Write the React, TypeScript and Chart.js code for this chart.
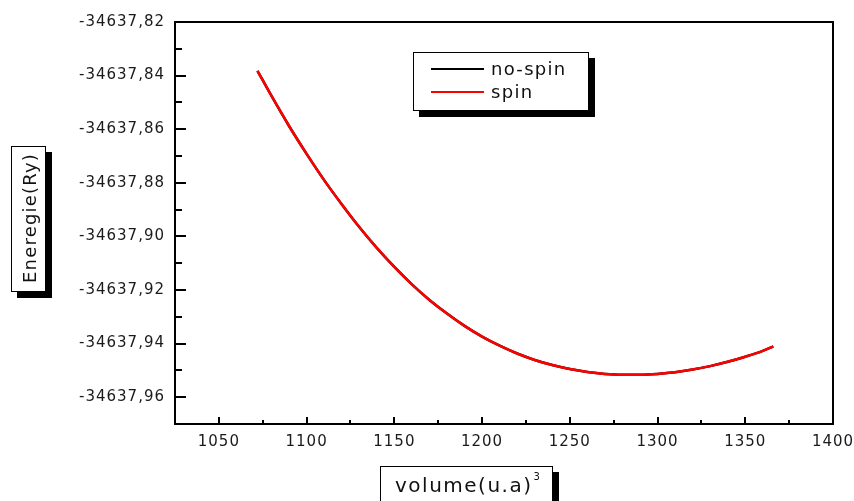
import { useEffect, useRef } from 'react';
import { Chart, registerables } from 'chart.js';

Chart.register(...registerables);

const FONT = '"DejaVu Sans", Verdana, sans-serif';

// Volume (u.a)^3
const volumes = [
  1072, 1080, 1090, 1100, 1110, 1120, 1130, 1140, 1150, 1160, 1170, 1180, 1190, 1200, 1210, 1220,
  1230, 1240, 1250, 1260, 1270, 1280, 1290, 1300, 1310, 1320, 1330, 1340, 1350, 1360, 1366,
];
// Energie (Ry), spin
const spinEnergy = [
  -34637.8382, -34637.8476, -34637.8588, -34637.8692, -34637.879, -34637.888, -34637.8965,
  -34637.9043, -34637.9114, -34637.9179, -34637.9237, -34637.9288, -34637.9334, -34637.9374,
  -34637.9408, -34637.9437, -34637.9461, -34637.948, -34637.9495, -34637.9506, -34637.9513,
  -34637.9516, -34637.9516, -34637.9513, -34637.9507, -34637.9497, -34637.9484, -34637.9468,
  -34637.9449, -34637.9427, -34637.941,
];
// Energie (Ry), no-spin (coincides with spin)
const noSpinEnergy = [
  -34637.8382, -34637.8476, -34637.8588, -34637.8692, -34637.879, -34637.888, -34637.8965,
  -34637.9043, -34637.9114, -34637.9179, -34637.9237, -34637.9288, -34637.9334, -34637.9374,
  -34637.9408, -34637.9437, -34637.9461, -34637.948, -34637.9495, -34637.9506, -34637.9513,
  -34637.9516, -34637.9516, -34637.9513, -34637.9507, -34637.9497, -34637.9484, -34637.9468,
  -34637.9449, -34637.9427, -34637.941,
];

const xMajorTicks = [1050, 1100, 1150, 1200, 1250, 1300, 1350, 1400];
const xMinorTicks = [1075, 1125, 1175, 1225, 1275, 1325, 1375];
const yMajorTicks = [-34637.82, -34637.84, -34637.86, -34637.88, -34637.9, -34637.92, -34637.94, -34637.96];
const yMinorTicks = [-34637.83, -34637.85, -34637.87, -34637.89, -34637.91, -34637.93, -34637.95];

const X_MIN = 1025;
const X_MAX = 1400;
const Y_MIN = -34637.97;
const Y_MAX = -34637.82;

const seriesLabels = ['no-spin', 'spin'];
const yTitle = 'Eneregie(Ry)';
const xTitle = 'volume(u.a)';
const xTitleSup = '3';

function shadowBox(ctx: CanvasRenderingContext2D, x: number, y: number, w: number, h: number, off: number) {
  ctx.fillStyle = '#000';
  ctx.fillRect(x + off, y + off, w, h);
  ctx.fillStyle = '#fff';
  ctx.fillRect(x, y, w, h);
  ctx.strokeStyle = '#000';
  ctx.lineWidth = 1;
  ctx.strokeRect(x + 0.5, y + 0.5, w - 1, h - 1);
}

const originPlugin = {
  id: 'originStyle',
  beforeDraw(chart: any) {
    chart.ctx.letterSpacing = '1px';
  },
  afterDraw(chart: any) {
    const { ctx, chartArea: a, scales } = chart;
    const xs = scales.x;
    const ys = scales.y;
    ctx.save();
    ctx.strokeStyle = '#000';
    ctx.lineWidth = 2;
    ctx.strokeRect(a.left, a.top, a.right - a.left, a.bottom - a.top);
    ctx.beginPath();
    xMajorTicks.forEach((v) => {
      const p = Math.round(xs.getPixelForValue(v));
      ctx.moveTo(p, a.bottom);
      ctx.lineTo(p, a.bottom - 7);
    });
    xMinorTicks.forEach((v) => {
      const p = Math.round(xs.getPixelForValue(v));
      ctx.moveTo(p, a.bottom);
      ctx.lineTo(p, a.bottom - 4);
    });
    yMajorTicks.forEach((v) => {
      const p = Math.round(ys.getPixelForValue(v));
      ctx.moveTo(a.left, p);
      ctx.lineTo(a.left + 11, p);
    });
    yMinorTicks.forEach((v) => {
      const p = Math.round(ys.getPixelForValue(v));
      ctx.moveTo(a.left, p);
      ctx.lineTo(a.left + 7, p);
    });
    ctx.stroke();

    // legend
    shadowBox(ctx, 413, 52, 176, 59, 6);
    const colors = ['#000000', '#ff0000'];
    const rows = [69, 92];
    seriesLabels.forEach((lab, i) => {
      ctx.strokeStyle = colors[i];
      ctx.lineWidth = 2;
      ctx.beginPath();
      ctx.moveTo(431, rows[i]);
      ctx.lineTo(484, rows[i]);
      ctx.stroke();
      ctx.fillStyle = '#111';
      ctx.font = `18px ${FONT}`;
      ctx.letterSpacing = '1.3px';
      ctx.textAlign = 'left';
      ctx.textBaseline = 'middle';
      ctx.fillText(lab, 491, rows[i] + 1);
    });

    // y title
    shadowBox(ctx, 11, 146, 35, 146, 6);
    ctx.save();
    ctx.translate(30, 219);
    ctx.rotate(-Math.PI / 2);
    ctx.fillStyle = '#111';
    ctx.font = `18px ${FONT}`;
    ctx.letterSpacing = '1.2px';
    ctx.textAlign = 'center';
    ctx.textBaseline = 'middle';
    ctx.fillText(yTitle, 1, 1);
    ctx.restore();

    // x title
    shadowBox(ctx, 380, 466, 173, 48, 6);
    ctx.fillStyle = '#111';
    ctx.font = `20px ${FONT}`;
    ctx.letterSpacing = '1.5px';
    ctx.textAlign = 'left';
    ctx.textBaseline = 'middle';
    ctx.fillText(xTitle, 395, 487);
    const w = ctx.measureText(xTitle).width;
    ctx.font = `10px ${FONT}`;
    ctx.letterSpacing = '0px';
    ctx.fillText(xTitleSup, 395 + w + 1, 477);
    ctx.restore();
  },
};

export default function App() {
  const ref = useRef<HTMLCanvasElement | null>(null);
  useEffect(() => {
    if (!ref.current) return;
    const chart = new Chart(ref.current, {
      type: 'line',
      data: {
        datasets: [
          {
            label: seriesLabels[0],
            data: volumes.map((v, i) => ({ x: v, y: noSpinEnergy[i] })),
            borderColor: '#000000',
            borderWidth: 2.5,
            pointRadius: 0,
            cubicInterpolationMode: 'monotone',
            order: 0,
          },
          {
            label: seriesLabels[1],
            data: volumes.map((v, i) => ({ x: v, y: spinEnergy[i] })),
            borderColor: '#ff0000',
            borderWidth: 2.5,
            pointRadius: 0,
            cubicInterpolationMode: 'monotone',
            order: -1,
          },
        ],
      },
      options: {
        animation: false,
        responsive: false,
        layout: { padding: { top: 22, right: 21, left: 0, bottom: 0 } },
        plugins: { legend: { display: false }, tooltip: { enabled: false } },
        scales: {
          x: {
            type: 'linear',
            min: X_MIN,
            max: X_MAX,
            grid: { display: false, drawTicks: false },
            border: { display: false },
            afterBuildTicks: (s: any) => {
              s.ticks = xMajorTicks.map((v) => ({ value: v }));
            },
            afterFit: (s: any) => {
              s.height = 77;
              s.paddingLeft = 0;
              s.paddingRight = 0;
            },
            ticks: {
              autoSkip: false,
              maxRotation: 0,
              padding: 9,
              color: '#1a1a1a',
              font: { family: FONT, size: 15 },
              callback: (v: any) => String(v),
            },
          },
          y: {
            type: 'linear',
            min: Y_MIN,
            max: Y_MAX,
            grid: { display: false, drawTicks: false },
            border: { display: false },
            afterBuildTicks: (s: any) => {
              s.ticks = yMajorTicks.map((v) => ({ value: v }));
            },
            afterFit: (s: any) => {
              s.width = 175;
              s.paddingTop = 0;
              s.paddingBottom = 0;
            },
            ticks: {
              autoSkip: false,
              padding: 10,
              color: '#1a1a1a',
              font: { family: FONT, size: 15 },
              callback: (v: any) => Number(v).toFixed(2).replace('.', ','),
            },
          },
        },
      },
      plugins: [originPlugin],
    } as any);
    return () => chart.destroy();
  }, []);
  return (
    <div style={{ position: 'absolute', left: 0, top: 0, width: 854, height: 501, background: '#fff' }}>
      <canvas ref={ref} width={854} height={501} style={{ width: 854, height: 501, display: 'block' }} />
    </div>
  );
}
